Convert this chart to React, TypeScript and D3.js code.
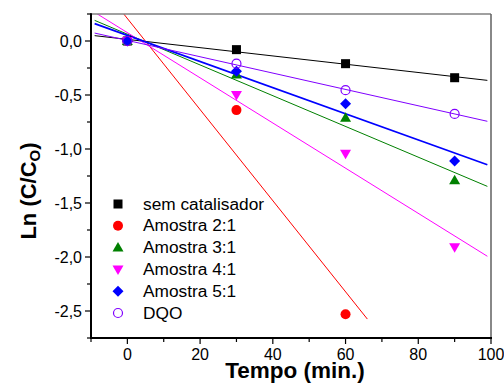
import React from "react";
import * as d3 from "d3";

const times = [0, 30, 60, 90];
const semCatalisador = [0, -0.08, -0.21, -0.34];
const amostra21 = [0, -0.64, -2.53];
const amostra31 = [0, -0.31, -0.71, -1.29];
const amostra41 = [0, -0.5, -1.045, -1.91];
const amostra51 = [0, -0.28, -0.58, -1.11];
const dqo = [0, -0.21, -0.455, -0.675];

const seriesNames = ["sem catalisador", "Amostra 2:1", "Amostra 3:1", "Amostra 4:1", "Amostra 5:1", "DQO"];
const seriesColors = ["#000000", "#ff0000", "#008000", "#ff00ff", "#0000ff", "#8000ff"];
const seriesShapes = ["square", "circle", "triangle", "down", "diamond", "open"];
const seriesValues = [semCatalisador, amostra21, amostra31, amostra41, amostra51, dqo];
const lineWidths = [1, 1, 1, 1, 1.6, 1];

const xTicks = [0, 20, 40, 60, 80, 100];
const yTicks = [0, -0.5, -1, -1.5, -2, -2.5];

const W = 504, H = 383;
const L = 91, R = 491, T = 14, B = 338;

function fit(xs: number[], ys: number[]) {
  const mx = d3.mean(xs)!, my = d3.mean(ys)!;
  let sxy = 0, sxx = 0;
  xs.forEach((x, i) => { sxy += (x - mx) * (ys[i] - my); sxx += (x - mx) * (x - mx); });
  const slope = sxy / sxx;
  return { slope, intercept: my - slope * mx, x0: d3.min(xs)!, x1: d3.max(xs)! };
}

function Marker({ shape, color, cx, cy }: { shape: string; color: string; cx: number; cy: number }) {
  if (shape === "square") return <rect x={cx - 4.5} y={cy - 4.5} width={9} height={9} fill={color} />;
  if (shape === "circle") return <circle cx={cx} cy={cy} r={5} fill={color} />;
  if (shape === "open") return <circle cx={cx} cy={cy} r={4.5} fill="none" stroke={color} strokeWidth={1.2} />;
  if (shape === "triangle")
    return <path d={`M${cx},${cy - 5.5}L${cx + 5.5},${cy + 4}L${cx - 5.5},${cy + 4}Z`} fill={color} />;
  if (shape === "down")
    return <path d={`M${cx},${cy + 5.5}L${cx + 5.5},${cy - 4}L${cx - 5.5},${cy - 4}Z`} fill={color} />;
  return <path d={`M${cx},${cy - 5.5}L${cx + 5.5},${cy}L${cx},${cy + 5.5}L${cx - 5.5},${cy}Z`} fill={color} />;
}

export default function App() {
  const x = d3.scaleLinear().domain([-10, 100]).range([L, R]);
  const y = d3.scaleLinear().domain([-2.75, 0.25]).range([B, T]);
  const fmt = (v: number) => d3.format(".1f")(v).replace(".", ",").replace("−", "-");
  const xMinor = d3.range(-10, 101, 10);
  const yMinor = d3.range(-2.75, 0.26, 0.25);
  const font = "'Liberation Sans', Arial, sans-serif";

  return (
    <svg width={W} height={H} style={{ position: "absolute", left: 0, top: 0, background: "#fff" }} fontFamily={font}>
      <defs>
        <clipPath id="plot">
          <rect x={L} y={T} width={R - L} height={B - T} />
        </clipPath>
      </defs>
      <rect x={0} y={0} width={W} height={H} fill="#fff" />
      {/* fit lines */}
      <g clipPath="url(#plot)">
        {seriesValues.map((vals, i) => {
          const xs = times.slice(0, vals.length);
          const f = fit(xs, vals);
          const pad = (f.x1 - f.x0) * 0.1;
          const a = f.x0 - pad, b = f.x1 + pad;
          const line = d3.line<number>().x((t) => x(t)).y((t) => y(f.intercept + f.slope * t));
          return <path key={i} d={line([a, b])!} stroke={seriesColors[i]} strokeWidth={lineWidths[i]} fill="none" />;
        })}
      </g>
      {/* markers */}
      <g>
        {seriesValues.map((vals, i) =>
          vals.map((v, j) => (
            <Marker key={`${i}-${j}`} shape={seriesShapes[i]} color={seriesColors[i]} cx={x(times[j])} cy={y(v)} />
          ))
        )}
      </g>
      {/* frame */}
      <line x1={L} x2={R} y1={T} y2={T} stroke="#808080" strokeWidth={1.5} />
      <line x1={R} x2={R} y1={T} y2={B} stroke="#606060" strokeWidth={1.5} />
      <line x1={L} x2={L} y1={T - 0.75} y2={B + 1} stroke="#000" strokeWidth={2} />
      <line x1={L - 1} x2={R + 1} y1={B} y2={B} stroke="#000" strokeWidth={2} />
      {/* x ticks */}
      {xMinor.map((t) => (
        <line key={`xm${t}`} x1={x(t)} x2={x(t)} y1={B} y2={B + (t % 20 === 0 ? 6 : 4)} stroke="#000" strokeWidth={1.2} />
      ))}
      {xTicks.map((t) => (
        <text key={`xt${t}`} x={x(t)} y={360} textAnchor="middle" fontSize={16}>
          {t}
        </text>
      ))}
      {/* y ticks */}
      {yMinor.map((t) => (
        <line
          key={`ym${t}`}
          x1={L}
          x2={L - (Math.abs((t * 2) % 1) < 1e-6 ? 6 : 4)}
          y1={y(t)}
          y2={y(t)}
          stroke="#000"
          strokeWidth={1.2}
        />
      ))}
      {yTicks.map((t) => (
        <text key={`yt${t}`} x={82} y={y(t) + 5.5} textAnchor="end" fontSize={16}>
          {fmt(t)}
        </text>
      ))}
      {/* axis titles */}
      <text x={295} y={378} textAnchor="middle" fontSize={22.5} fontWeight="bold">
        Tempo (min.)
      </text>
      <text transform="translate(36,191) rotate(-90)" textAnchor="middle" fontSize={22} fontWeight="bold">
        Ln (C/C<tspan fontSize={15} dy={4}>O</tspan>
        <tspan dy={-4}>)</tspan>
      </text>
      {/* legend */}
      {seriesNames.map((n, i) => {
        const ry = 204 + i * 21.8;
        return (
          <g key={n}>
            <Marker shape={seriesShapes[i]} color={seriesColors[i]} cx={118} cy={ry} />
            <text x={143} y={ry + 5.5} fontSize={17.3}>
              {n}
            </text>
          </g>
        );
      })}
    </svg>
  );
}
